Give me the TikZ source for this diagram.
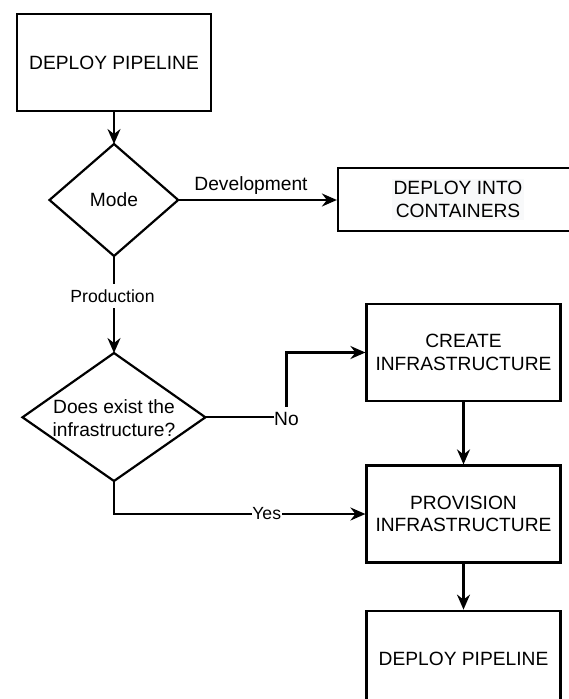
\documentclass[tikz,border=0pt]{standalone}
\usepackage{fontspec}
\setmainfont{Liberation Sans}
\usetikzlibrary{arrows.meta}
\definecolor{hl}{RGB}{248,249,250}
\begin{document}
\begin{tikzpicture}[x=1pt,y=-1pt,
  line/.style={line width=2.2pt, draw=black},
  arr/.style={line, -{Stealth[length=15pt,width=13pt,inset=5pt]}},
  boxtext/.style={font=\fontsize{19.2}{22.5}\selectfont, align=center},
  box/.style={rectangle, line, minimum width=194pt, minimum height=97pt, inner sep=0pt, boxtext},
  elbl/.style={font=\fontsize{17.6}{20}\selectfont, fill=white, inner xsep=0.5pt},
  elblbig/.style={font=\fontsize{19.2}{22}\selectfont, fill=white, inner xsep=0.5pt},
]
\useasboundingbox (0,0) rectangle (569,699);

% boxes
\node[box] (b1) at (114,62.5) {DEPLOY PIPELINE};
\node[rectangle, line, minimum width=240pt, minimum height=63pt, inner sep=0pt] (cont) at (458,199.5) {};
\node[boxtext, fill=hl, inner sep=2pt] (contt) at (cont.center) {DEPLOY INTO\\CONTAINERS};
\node[box] (create) at (463.5,352.5) {CREATE\\INFRASTRUCTURE};
\node[box] (prov) at (463.5,514) {PROVISION\\INFRASTRUCTURE};
\node[box] (last) at (463.5,659.2) {DEPLOY PIPELINE};

% decision: Mode
\draw[line] (114,144) coordinate (mT) -- (178.2,200) coordinate (mR)
  -- (114,256) coordinate (mB) -- (49.5,200) coordinate (mL) -- cycle;
\node[boxtext] (mode) at (114,200) {Mode};

% decision: infrastructure
\draw[line] (114,353) coordinate (qT) -- (205.4,417.3) coordinate (qR)
  -- (114,481) coordinate (qB) -- (22.5,417.3) coordinate (qL) -- cycle;
\node[boxtext] (q) at (114,418) {Does exist the\\infrastructure?};

% connectors
\draw[arr] (b1.south) -- (mT);
\draw[arr] (mR) -- (mR -| cont.west);
\node[font=\fontsize{19.2}{22}\selectfont] (dev) at (251,186) {Development};

\draw[arr] (mB) -- (qT);
\node[elbl, inner ysep=6pt] (prod) at (112.5,296) {Production};

\coordinate (nocorner) at (286.5,417.3);
\draw[arr] (qR) -- (nocorner) |- (create.west);
\node[elblbig, inner ysep=5pt] (no) at (286.5,419) {No};

\draw[arr] (create.south) -- (prov.north);

\draw[arr] (qB) |- (prov.west);
\node[elbl, inner ysep=3pt] (yes) at (266.7,514) {Yes};

\draw[arr] (prov.south) -- (last.north);
\end{tikzpicture}
\end{document}
